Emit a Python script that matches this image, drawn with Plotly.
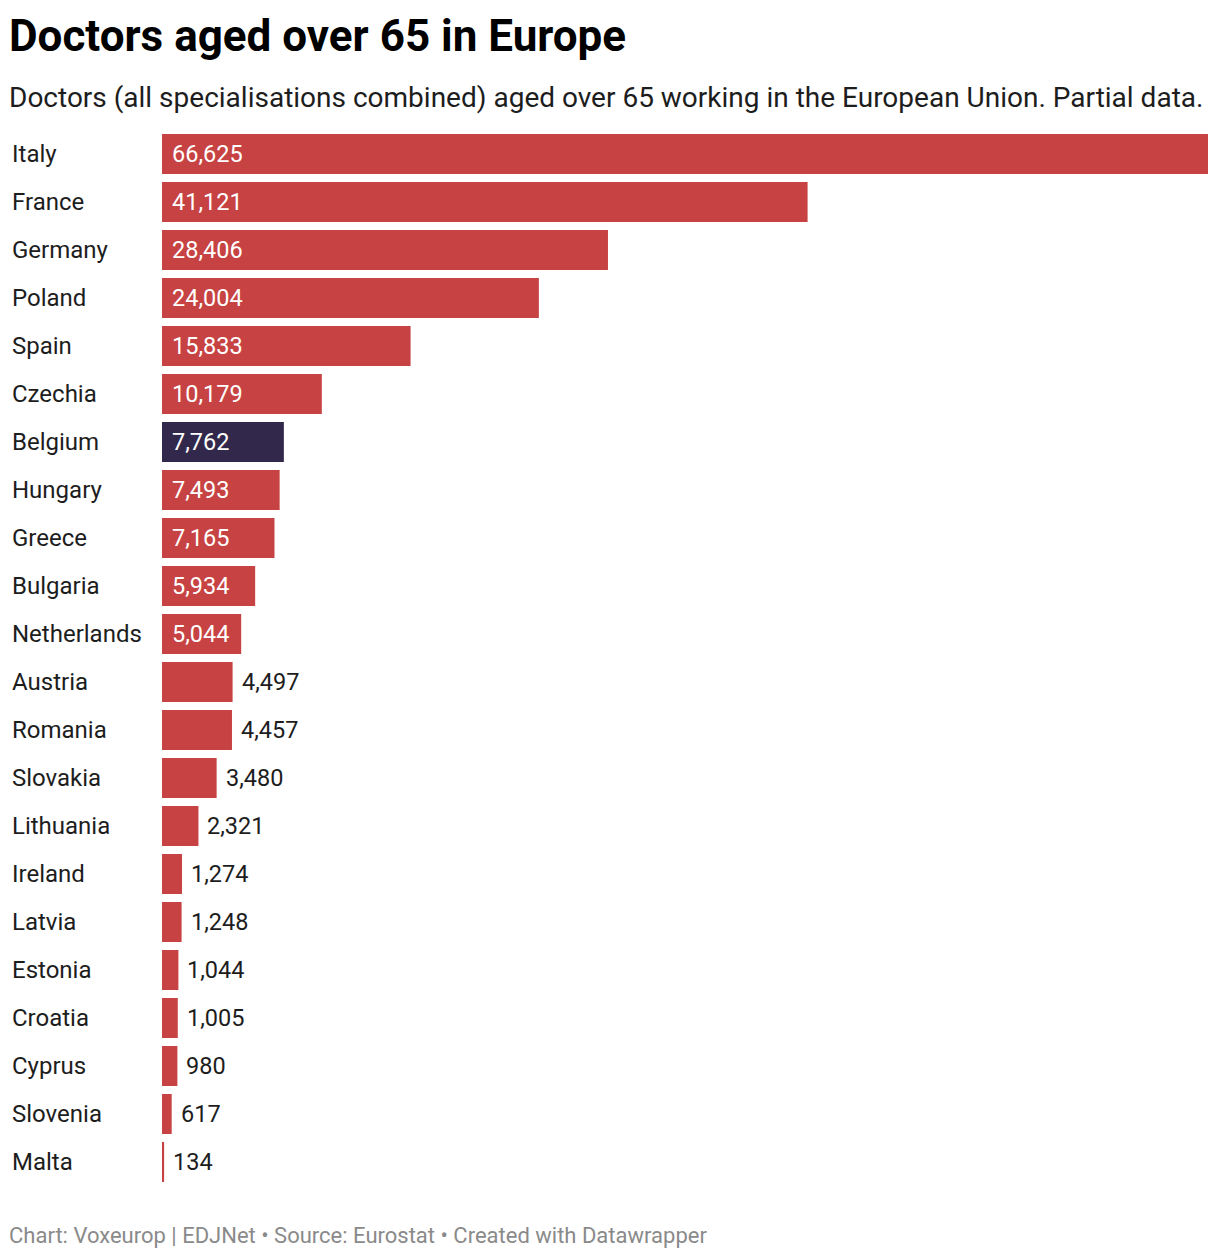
import plotly.graph_objects as go

countries = ["Italy", "France", "Germany", "Poland", "Spain", "Czechia", "Belgium",
             "Hungary", "Greece", "Bulgaria", "Netherlands", "Austria", "Romania",
             "Slovakia", "Lithuania", "Ireland", "Latvia", "Estonia", "Croatia",
             "Cyprus", "Slovenia", "Malta"]
values = [66625, 41121, 28406, 24004, 15833, 10179, 7762, 7493, 7165, 5934, 5044,
          4497, 4457, 3480, 2321, 1274, 1248, 1044, 1005, 980, 617, 134]
highlight = "Belgium"

RED = "#c74242"
DARK = "#32284b"
FONT = "Roboto"

OFF = 8  # default page body margin
W, H = 1204, 1242
ML, MR, MT, MB = 154, 4, 122, 64
PH = H - MT - MB

def py(p):
    # p is a window pixel y; convert to paper fraction
    return 1 - ((p - OFF) - MT) / PH

colors = [DARK if c == highlight else RED for c in countries]

fig = go.Figure(go.Bar(
    x=values, y=countries, orientation="h",
    marker=dict(color=colors, line=dict(width=0)),
    hoverinfo="x+y",
))

ann = []
inside_min = 5000
CS = 24
VS = 23.5
for c, v in zip(countries, values):
    ann.append(dict(x=0, xref="paper", xshift=-152, y=c, yref="y", text=c,
                    xanchor="left", yanchor="middle", showarrow=False,
                    font=dict(family=FONT, size=CS, color="#1d1d1d")))
    lab = f"{v:,}"
    if v >= inside_min:
        ann.append(dict(x=0, xref="x", xshift=8, y=c, yref="y", text=lab,
                        xanchor="left", yanchor="middle", showarrow=False,
                        font=dict(family=FONT, size=VS, color="white")))
    else:
        ann.append(dict(x=v, xref="x", xshift=7, y=c, yref="y", text=lab,
                        xanchor="left", yanchor="middle", showarrow=False,
                        font=dict(family=FONT, size=VS, color="#1d1d1d")))

ann.append(dict(x=0, xref="paper", xshift=-155, y=py(36), yref="paper",
                text="<b>Doctors aged over 65 in Europe</b>", xanchor="left",
                yanchor="middle", showarrow=False,
                font=dict(family=FONT, size=44, color="#000000")))
ann.append(dict(x=0, xref="paper", xshift=-155, y=py(97), yref="paper",
                text="Doctors (all specialisations combined) aged over 65 working in the European Union. Partial data.",
                xanchor="left", yanchor="middle", showarrow=False,
                font=dict(family=FONT, size=28, color="#1d1d1d")))
ann.append(dict(x=0, xref="paper", xshift=-155, y=py(1235), yref="paper",
                text="Chart: Voxeurop | EDJNet • Source: Eurostat • Created with Datawrapper",
                xanchor="left", yanchor="middle", showarrow=False,
                font=dict(family=FONT, size=22, color="#8a8a8a")))

fig.update_layout(
    width=W, height=H,
    margin=dict(l=ML, r=MR, t=MT, b=MB),
    paper_bgcolor="white", plot_bgcolor="white",
    bargap=8/48,
    showlegend=False,
    annotations=ann,
    xaxis=dict(range=[0, 66625], visible=False, fixedrange=True),
    yaxis=dict(autorange="reversed", visible=False, fixedrange=True,
               categoryorder="array", categoryarray=countries),
    font=dict(family=FONT),
)

fig.write_html("out.html", config={"displayModeBar": False})
